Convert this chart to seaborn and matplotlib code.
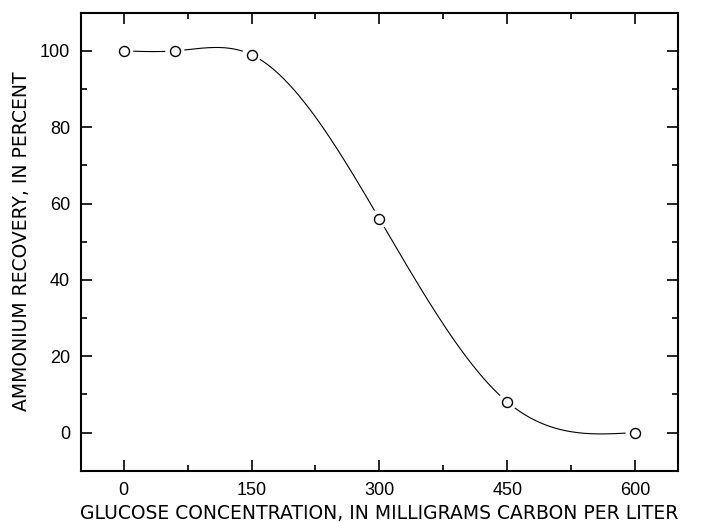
import numpy as np
import pandas as pd
import matplotlib
matplotlib.use("Agg")
import matplotlib.pyplot as plt
import seaborn as sns
from matplotlib.ticker import MultipleLocator

# measured points
glucose = [0, 60, 150, 300, 450, 600]
recovery = [100, 100, 99, 56, 8, 0]

x_ticks = [0, 150, 300, 450, 600]
y_ticks = [0, 20, 40, 60, 80, 100]
x_label = "GLUCOSE CONCENTRATION, IN MILLIGRAMS CARBON PER LITER"
y_label = "AMMONIUM RECOVERY, IN PERCENT"


def natural_spline(x, y, n=400):
    # natural cubic spline through the points (smooth connecting line)
    x = np.asarray(x, float)
    y = np.asarray(y, float)
    h = np.diff(x)
    k = len(x)
    A = np.zeros((k, k))
    b = np.zeros(k)
    A[0, 0] = A[-1, -1] = 1
    for i in range(1, k - 1):
        A[i, i - 1] = h[i - 1]
        A[i, i] = 2 * (h[i - 1] + h[i])
        A[i, i + 1] = h[i]
        b[i] = 6 * ((y[i + 1] - y[i]) / h[i] - (y[i] - y[i - 1]) / h[i - 1])
    m = np.linalg.solve(A, b)
    xs = np.linspace(x[0], x[-1], n)
    idx = np.clip(np.searchsorted(x, xs) - 1, 0, k - 2)
    x0, x1 = x[idx], x[idx + 1]
    hh = x1 - x0
    t0, t1 = x1 - xs, xs - x0
    ys = (m[idx] * t0**3 + m[idx + 1] * t1**3) / (6 * hh) \
        + (y[idx] / hh - m[idx] * hh / 6) * t0 \
        + (y[idx + 1] / hh - m[idx + 1] * hh / 6) * t1
    return xs, ys


def main():
    sns.set_style("ticks")
    plt.rcParams['font.family'] = ['Liberation Sans', 'DejaVu Sans']
    plt.rcParams['text.color'] = 'black'
    plt.rcParams['axes.labelcolor'] = 'black'
    plt.rcParams['xtick.color'] = 'black'
    plt.rcParams['ytick.color'] = 'black'

    df = pd.DataFrame({"glucose": glucose, "recovery": recovery})
    xs, ys = natural_spline(glucose, recovery)
    curve = pd.DataFrame({"glucose": xs, "recovery": ys})

    fig = plt.figure(figsize=(7.07, 5.22), dpi=100)
    ax = fig.add_axes([0.1146, 0.0983, 0.844, 0.8774])

    sns.lineplot(data=curve, x="glucose", y="recovery", ax=ax,
                 color="black", linewidth=0.8, zorder=2)
    # white halo so the line stops short of each circle
    sns.scatterplot(data=df, x="glucose", y="recovery", ax=ax, s=190,
                    color="white", edgecolor="none", linewidth=0, zorder=3)
    sns.scatterplot(data=df, x="glucose", y="recovery", ax=ax, s=52,
                    facecolor="white", edgecolor="black", linewidth=1.0,
                    zorder=4)

    ax.set_xlim(-50, 650)
    ax.set_ylim(-10, 110)
    ax.set_xticks(x_ticks)
    ax.set_yticks(y_ticks)
    ax.xaxis.set_minor_locator(MultipleLocator(75))
    ax.yaxis.set_minor_locator(MultipleLocator(10))
    ax.tick_params(which="both", direction="in", top=True, right=True,
                   width=1.2, color="black")
    ax.tick_params(which="major", length=8, labelsize=13, pad=8)
    ax.tick_params(which="minor", length=4)
    ax.tick_params(axis="x", labeltop=False)
    ax.tick_params(axis="y", labelright=False)
    for lab in ax.get_xticklabels() + ax.get_yticklabels():
        lab.set_family("Liberation Sans")
    for sp in ax.spines.values():
        sp.set_linewidth(1.5)
        sp.set_color("black")

    # the original lettering is wider than Arial, DejaVu is closer
    ax.set_xlabel(x_label, fontsize=13.5, labelpad=4, family="DejaVu Sans")
    ax.set_ylabel(y_label, fontsize=13.5, labelpad=6, family="DejaVu Sans")

    fig.savefig("out.png", dpi=100)
    plt.close(fig)


if __name__ == "__main__":
    main()
